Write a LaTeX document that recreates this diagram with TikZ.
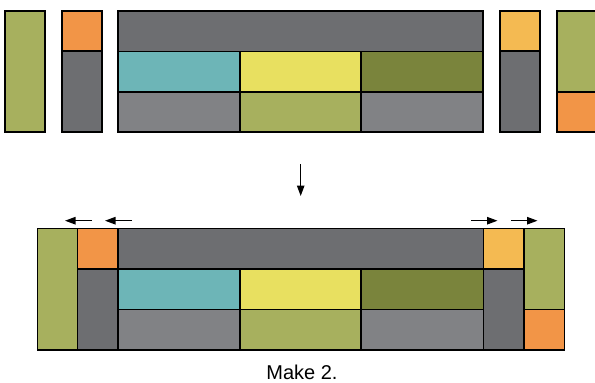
\documentclass[tikz,border=0pt]{standalone}
\usepackage{fontspec}
\setmainfont{Liberation Sans}
\usetikzlibrary{arrows.meta}
\definecolor{cgreen}{HTML}{A7B05E}
\definecolor{corange}{HTML}{F29547}
\definecolor{cdark}{HTML}{6D6E71}
\definecolor{cteal}{HTML}{6DB5B7}
\definecolor{cyellow}{HTML}{E8E060}
\definecolor{colive}{HTML}{7A843C}
\definecolor{clight}{HTML}{818285}
\definecolor{cgold}{HTML}{F4BA52}
\newcommand\mycell[6]{\node[cell,fill=#2,minimum width=#5,minimum height=#6] (#1) at (#3,#4) {};}
\begin{document}
\begin{tikzpicture}[x=1pt,y=-1pt,
  cell/.style={draw=black,line width=1.2pt,inner sep=0pt,outer sep=0pt,anchor=north west},
  arr/.style={line width=1.2pt,-{Triangle[length=10.5pt,width=7.5pt]}},
  lbl/.style={font=\fontsize{20}{24}\selectfont,inner sep=0pt}]
\useasboundingbox (0,0) rectangle (595,383);
% ---- top row ----
\mycell{ta}{cgreen}{5}{11}{40}{121}
\mycell{tb1}{corange}{62}{11}{40}{40}
\mycell{tb2}{cdark}{62}{51}{40}{81}
\mycell{m11}{cdark}{118}{11}{365}{40.5}
\mycell{m21}{cteal}{118}{51.5}{122}{40.5}
\mycell{m22}{cyellow}{240}{51.5}{121}{40.5}
\mycell{m23}{colive}{361}{51.5}{122}{40.5}
\mycell{m31}{clight}{118}{92}{122}{40}
\mycell{m32}{cgreen}{240}{92}{121}{40}
\mycell{m33}{clight}{361}{92}{122}{40}
\mycell{tc1}{cgold}{500}{11}{40}{40}
\mycell{tc2}{cdark}{500}{51}{40}{81}
\mycell{td1}{cgreen}{557}{11}{42}{81}
\mycell{td2}{corange}{557}{92}{42}{40}
% ---- bottom row ----
\mycell{ba}{cgreen}{37.5}{228.5}{40}{121.5}
\mycell{bb1}{corange}{77.5}{228.5}{40.5}{40.5}
\mycell{bb2}{cdark}{77.5}{269}{40.5}{81}
\mycell{n11}{cdark}{118}{228.5}{365.5}{40.5}
\mycell{n21}{cteal}{118}{269}{122}{40.5}
\mycell{n22}{cyellow}{240}{269}{121}{40.5}
\mycell{n23}{colive}{361}{269}{122.5}{40.5}
\mycell{n31}{clight}{118}{309.5}{122}{40.5}
\mycell{n32}{cgreen}{240}{309.5}{121}{40.5}
\mycell{n33}{clight}{361}{309.5}{122.5}{40.5}
\mycell{bc1}{cgold}{483.5}{228.5}{40.5}{40.5}
\mycell{bc2}{cdark}{483.5}{269}{40.5}{81}
\mycell{bd1}{cgreen}{524}{228.5}{40.5}{81}
\mycell{bd2}{corange}{524}{309.5}{40.5}{40.5}
% ---- arrows ----
\coordinate (d1) at (300.7,164);
\coordinate (d2) at (300.7,196);
\draw[arr] (d1) -- (d2);
\coordinate (l1s) at (92,220.7); \coordinate (l1e) at (65,220.7);
\coordinate (l2s) at (132,220.7); \coordinate (l2e) at (105,220.7);
\coordinate (r1s) at (471,220.7); \coordinate (r1e) at (497.5,220.7);
\coordinate (r2s) at (511,220.7); \coordinate (r2e) at (537.5,220.7);
\draw[arr] (l1s) -- (l1e);
\draw[arr] (l2s) -- (l2e);
\draw[arr] (r1s) -- (r1e);
\draw[arr] (r2s) -- (r2e);
% ---- caption ----
\node[lbl] (cap) at (302,372) {Make 2.};
\end{tikzpicture}
\end{document}
